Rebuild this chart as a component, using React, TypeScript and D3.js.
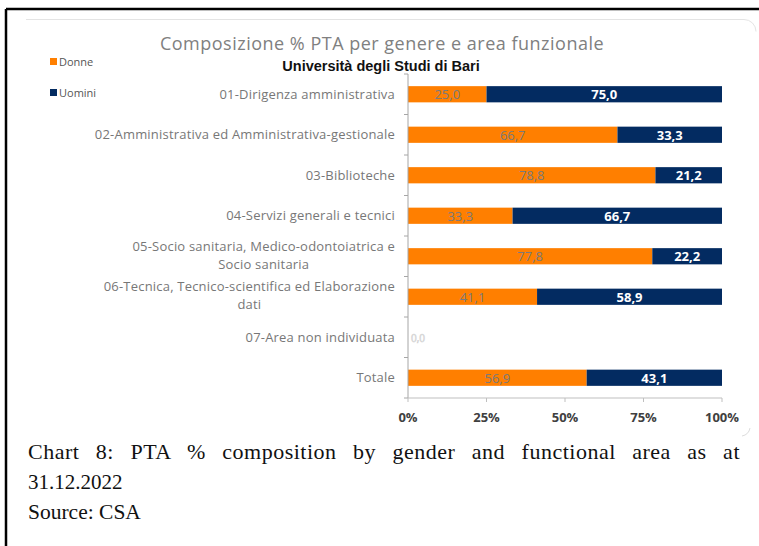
import React from "react";
import * as d3 from "d3";

const categories = [
  "01-Dirigenza amministrativa",
  "02-Amministrativa ed Amministrativa-gestionale",
  "03-Biblioteche",
  "04-Servizi generali e tecnici",
  "05-Socio sanitaria, Medico-odontoiatrica e Socio sanitaria",
  "06-Tecnica, Tecnico-scientifica ed Elaborazione dati",
  "07-Area non individuata",
  "Totale",
];
const categoryLines = [
  ["01-Dirigenza amministrativa"],
  ["02-Amministrativa ed Amministrativa-gestionale"],
  ["03-Biblioteche"],
  ["04-Servizi generali e tecnici"],
  ["05-Socio sanitaria, Medico-odontoiatrica e", "Socio sanitaria"],
  ["06-Tecnica, Tecnico-scientifica ed Elaborazione", "dati"],
  ["07-Area non individuata"],
  ["Totale"],
];
const donne = [25.0, 66.7, 78.8, 33.3, 77.8, 41.1, 0.0, 56.9];
const uomini = [75.0, 33.3, 21.2, 66.7, 22.2, 58.9, 0.0, 43.1];
const xTicks = [0, 25, 50, 75, 100];
const seriesNames = ["Donne", "Uomini"];

const ORANGE = "#FF7F00";
const NAVY = "#032B61";
const FONT = "'Open Sans', Lato, sans-serif";
const SERIF = "'Liberation Serif', 'DejaVu Serif', serif";

const fmt = (v: number) => d3.format(".1f")(v).replace(".", ",");

const LABEL_RIGHT = 395;

export default function App() {
  const x = d3.scaleLinear().domain([0, 100]).range([408, 722]);
  const y = d3
    .scaleBand<string>()
    .domain(categories)
    .range([74, 398])
    .paddingInner(0.6)
    .paddingOuter(0.3);
  const step = y.step();
  const bw = y.bandwidth();
  const [r0, r1] = y.range();
  const boundaries = d3.range(categories.length + 1).map((i) => r0 + i * step);

  const justify = (el: SVGTextElement | null) => {
    if (!el) return;
    el.setAttribute("word-spacing", "0");
    const w = el.getComputedTextLength();
    const text = el.textContent || "";
    const spaces = (text.match(/ /g) || []).length;
    const target = 740 - 28;
    if (spaces > 0) el.setAttribute("word-spacing", String((target - w) / spaces));
  };

  return (
    <svg
      width={759}
      height={546}
      style={{ position: "fixed", left: 0, top: 0, background: "#fff" }}
    >
      <rect x={0} y={0} width={759} height={546} fill="#fff" />
      {/* outer black frame */}
      <line x1={6} y1={9} x2={759} y2={9} stroke="#000" strokeWidth={2.5} />
      <line x1={6} y1={9} x2={6} y2={546} stroke="#000" strokeWidth={2.5} />
      {/* faint chart frame */}
      <path
        d="M26,19.5 H744 A12,12 0 0 1 756,31.5"
        fill="none"
        stroke="#e4e4e4"
        strokeWidth={1}
      />
      <path d="M742,436 A10,10 0 0 0 750,428" fill="none" stroke="#dddddd" strokeWidth={1} />

      {/* titles */}
      <text
        x={382}
        y={50}
        textAnchor="middle"
        fontFamily={FONT}
        fontSize={18}
        letterSpacing={0.5}
        fill="#808080"
      >
        Composizione % PTA per genere e area funzionale
      </text>
      <text
        x={381}
        y={71}
        textAnchor="middle"
        fontFamily="'Liberation Sans', Arial, sans-serif"
        fontWeight="bold"
        fontSize={14.5}
        fill="#111"
      >
        Università degli Studi di Bari
      </text>

      {/* legend */}
      {seriesNames.map((s, i) => (
        <g key={s} transform={`translate(50,${66 + i * 31})`}>
          <rect x={0} y={-8} width={7} height={7} fill={i === 0 ? ORANGE : NAVY} />
          <text x={9} y={-0.5} fontFamily={FONT} fontSize={11} fill="#555">
            {s}
          </text>
        </g>
      ))}

      {/* bars */}
      {categories.map((c, i) => {
        const yy = y(c)!;
        const cy = yy + bw / 2;
        return (
          <g key={c}>
            {donne[i] > 0 && (
              <rect x={x(0)} y={yy} width={x(donne[i]) - x(0)} height={bw} fill={ORANGE} />
            )}
            {uomini[i] > 0 && (
              <rect
                x={x(donne[i])}
                y={yy}
                width={x(donne[i] + uomini[i]) - x(donne[i])}
                height={bw}
                fill={NAVY}
              />
            )}
            {donne[i] > 0 ? (
              <text
                x={(x(0) + x(donne[i])) / 2}
                y={cy + 5}
                textAnchor="middle"
                fontFamily={FONT}
                fontSize={13}
                fill="#7a7a7a"
              >
                {fmt(donne[i])}
              </text>
            ) : (
              <text
                x={x(0) + 3}
                y={cy + 4.5}
                fontFamily={FONT}
                fontSize={10}
                fill="#fff"
                stroke="#d0d0d0"
                strokeWidth={0.6}
              >
                {fmt(donne[i])}
              </text>
            )}
            {uomini[i] > 0 && (
              <text
                x={(x(donne[i]) + x(100)) / 2}
                y={cy + 5}
                textAnchor="middle"
                fontFamily={FONT}
                fontWeight="bold"
                fontSize={13}
                fill="#fff"
              >
                {fmt(uomini[i])}
              </text>
            )}
          </g>
        );
      })}

      {/* category labels */}
      {categories.map((c, i) => {
        const lines = categoryLines[i];
        const cy = y(c)! + bw / 2;
        const lh = 18;
        const startY = cy - ((lines.length - 1) * lh) / 2 + 4.5;
        if (lines.length === 1) {
          return (
            <text
              key={c}
              x={LABEL_RIGHT}
              y={cy + 4.5}
              textAnchor="end"
              fontFamily={FONT}
              fontSize={13}
              letterSpacing={0.2}
              fill="#777"
            >
              {lines[0]}
            </text>
          );
        }
        return (
          <text
            key={c}
            fontFamily={FONT}
            fontSize={13}
            letterSpacing={0.2}
            fill="#777"
            textAnchor="end"
          >
            <tspan x={LABEL_RIGHT} y={startY - 1}>
              {lines[0]}
            </tspan>
            <tspan
              x={LABEL_RIGHT}
              y={startY - 1 + lh}
              textAnchor="middle"
              ref={(el) => {
                if (!el) return;
                const parent = el.parentNode as SVGTextElement;
                const first = parent.firstChild as SVGTSpanElement;
                const w = first.getComputedTextLength();
                el.setAttribute("x", String(LABEL_RIGHT - w / 2));
              }}
            >
              {lines[1]}
            </tspan>
          </text>
        );
      })}

      {/* y axis */}
      <line x1={x(0)} y1={r0} x2={x(0)} y2={r1} stroke="#a6a6a6" strokeWidth={1} />
      {boundaries.map((b, i) => (
        <line key={i} x1={x(0) - 4} y1={b} x2={x(0)} y2={b} stroke="#a6a6a6" />
      ))}

      {/* x axis */}
      <line x1={x(0)} y1={r1} x2={x(100)} y2={r1} stroke="#bfbfbf" strokeWidth={1} />
      {xTicks.map((t) => (
        <g key={t}>
          <line x1={x(t)} y1={r1} x2={x(t)} y2={r1 + 4} stroke="#bfbfbf" />
          <text
            x={x(t)}
            y={r1 + 24}
            textAnchor="middle"
            fontFamily={FONT}
            fontWeight="bold"
            fontSize={13}
            fill="#404040"
          >
            {t + "%"}
          </text>
        </g>
      ))}

      {/* caption */}
      <text
        x={28}
        y={459}
        fontFamily={SERIF}
        fontSize={22}
        letterSpacing={0.5}
        fill="#111"
        ref={justify}
      >
        Chart 8: PTA % composition by gender and functional area as at
      </text>
      <text x={28} y={489} fontFamily={SERIF} fontSize={21} fill="#111">
        31.12.2022
      </text>
      <text x={28} y={519} fontFamily={SERIF} fontSize={21.5} fill="#111">
        Source: CSA
      </text>
    </svg>
  );
}
